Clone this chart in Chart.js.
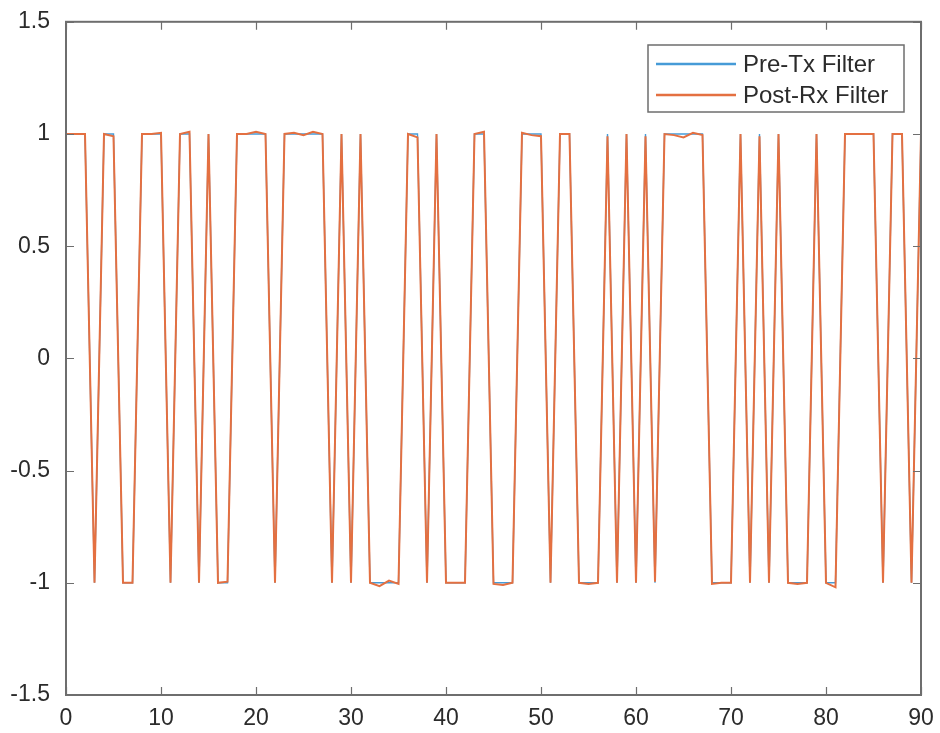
<!DOCTYPE html>
<html>
<head>
  <meta charset="UTF-8">
  <title>Pre-Tx vs Post-Rx Filter</title>
  <script src="https://cdn.jsdelivr.net/npm/chart.js"></script>
  <style>
    body { margin: 0; background: #fff; }
    #plot { display: block; }
  </style>
</head>
<body>
  <canvas id="plot" width="940" height="733"></canvas>

  <script>
    // symbol values, one per sample (x = 0..90)
    const preTx = [
      1, 1, 1, -1, 1, 1, -1, -1, 1, 1,
      1, -1, 1, 1, -1, 1, -1, -1, 1, 1,
      1, 1, -1, 1, 1, 1, 1, 1, -1, 1,
      -1, 1, -1, -1, -1, -1, 1, 1, -1, 1,
      -1, -1, -1, 1, 1, -1, -1, -1, 1, 1,
      1, -1, 1, 1, -1, -1, -1, 1, -1, 1,
      -1, 1, -1, 1, 1, 1, 1, 1, -1, -1,
      -1, 1, -1, 1, -1, 1, -1, -1, -1, 1,
      -1, -1, 1, 1, 1, 1, -1, 1, 1, -1,
      1
    ];
    // same symbols after the receive filter, with small ripple
    const postRx = [
      1, 1, 1, -1, 1, 0.99, -1, -1, 1, 1,
      1.005, -1, 1, 1.01, -1, 1, -1, -0.995, 1, 1,
      1.01, 1, -1, 1, 1.005, 0.995, 1.01, 1, -1, 1,
      -1, 1, -1, -1.015, -0.99, -1.005, 1, 0.985, -1, 1,
      -1, -1, -1, 1, 1.01, -1.005, -1.01, -1, 1.005, 0.995,
      0.99, -1, 1, 1, -1, -1.005, -1, 0.99, -1, 1,
      -1, 0.99, -0.995, 1, 0.995, 0.985, 1.005, 0.995, -1.005, -1,
      -1, 1, -1, 0.99, -1, 1, -1, -1.005, -1, 1,
      -1, -1.02, 1, 1, 1, 1, -1, 1, 1, -1,
      1
    ];
    const xTicks = [0, 10, 20, 30, 40, 50, 60, 70, 80, 90];
    const yTicks = [-1.5, -1, -0.5, 0, 0.5, 1, 1.5];
    const seriesNames = ['Pre-Tx Filter', 'Post-Rx Filter'];
    const seriesColors = ['rgb(70,155,215)', 'rgb(228,112,65)'];
    const seriesWidths = [1.4, 2.0];

    const axisColor = '#6e6e6e';
    const textColor = '#2b2b2b';
    const fontFamily = '"Liberation Sans", Arial, sans-serif';

    // draws the closed box, inward ticks on all four sides, and the legend
    const boxPlugin = {
      id: 'boxPlugin',
      afterDatasetsDraw(chart) {
        const ctx = chart.ctx;
        const a = chart.chartArea;
        const xs = chart.scales.x, ys = chart.scales.y;
        ctx.save();
        ctx.strokeStyle = axisColor;
        ctx.lineWidth = 2;
        ctx.strokeRect(a.left, a.top, a.right - a.left, a.bottom - a.top);
        ctx.lineWidth = 1.2;
        const tl = 8;
        ctx.beginPath();
        xTicks.forEach(v => {
          const px = Math.round(xs.getPixelForValue(v)) + 0.5;
          ctx.moveTo(px, a.bottom); ctx.lineTo(px, a.bottom - tl);
          ctx.moveTo(px, a.top); ctx.lineTo(px, a.top + tl);
        });
        yTicks.forEach(v => {
          const py = Math.round(ys.getPixelForValue(v)) + 0.5;
          ctx.moveTo(a.left, py); ctx.lineTo(a.left + tl, py);
          ctx.moveTo(a.right, py); ctx.lineTo(a.right - tl, py);
        });
        ctx.stroke();

        // legend
        const lx = 648, ly = 45, lw = 256, lh = 67;
        ctx.fillStyle = '#fff';
        ctx.fillRect(lx, ly, lw, lh);
        ctx.strokeStyle = axisColor;
        ctx.lineWidth = 1.5;
        ctx.strokeRect(lx, ly, lw, lh);
        ctx.font = '24px ' + fontFamily;
        ctx.textBaseline = 'middle';
        ctx.textAlign = 'left';
        seriesNames.forEach((name, i) => {
          const y = ly + 19 + i * 31;
          ctx.strokeStyle = seriesColors[i];
          ctx.lineWidth = 2.5;
          ctx.beginPath();
          ctx.moveTo(lx + 8, y); ctx.lineTo(lx + 88, y);
          ctx.stroke();
          ctx.fillStyle = textColor;
          ctx.fillText(name, lx + 95, y + 1);
        });
        ctx.restore();
      }
    };

    const ctx = document.getElementById('plot').getContext('2d');
    new Chart(ctx, {
      type: 'line',
      data: {
        datasets: [preTx, postRx].map((vals, i) => ({
          label: seriesNames[i],
          data: vals.map((v, k) => ({ x: k, y: v })),
          borderColor: seriesColors[i],
          borderWidth: seriesWidths[i],
          pointRadius: 0,
          tension: 0,
          fill: false,
          order: 1 - i   // post-Rx drawn on top
        }))
      },
      options: {
        responsive: false,
        animation: false,
        layout: { padding: { top: 10, right: 19, left: 0, bottom: 0 } },
        plugins: { legend: { display: false }, tooltip: { enabled: false } },
        scales: {
          x: {
            type: 'linear',
            min: 0, max: 90,
            afterBuildTicks: s => { s.ticks = xTicks.map(v => ({ value: v })); },
            afterFit: s => { s.height = 38; },
            grid: { display: false },
            border: { display: false },
            ticks: { color: textColor, font: { size: 23, family: fontFamily }, padding: 2, maxRotation: 0,
                     callback: v => String(v) }
          },
          y: {
            min: -1.5, max: 1.5,
            afterBuildTicks: s => { s.ticks = yTicks.map(v => ({ value: v })); },
            afterFit: s => { s.width = 66; },
            grid: { display: false },
            border: { display: false },
            ticks: { color: textColor, font: { size: 23, family: fontFamily }, padding: 8,
                     callback: v => String(v) }
          }
        }
      },
      plugins: [boxPlugin]
    });
  </script>
</body>
</html>
